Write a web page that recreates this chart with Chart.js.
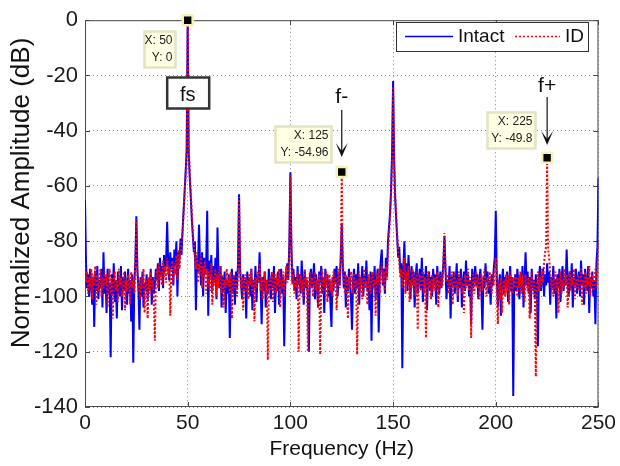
<!DOCTYPE html>
<html>
<head>
<meta charset="utf-8">
<script src="https://cdn.jsdelivr.net/npm/chart.js@4.4.0/dist/chart.umd.min.js"></script>
<style>
  html, body { margin: 0; padding: 0; background: #fff; }
  #spectrum { display: block; }
</style>
</head>
<body>
<canvas id="spectrum" width="620" height="466"></canvas>
<script>
// frequency bins, 0..250 Hz at 0.5 Hz resolution
const binStep = 0.5;
const freqHz = Array.from({ length: 501 }, (_, i) => i * binStep);

// normalized amplitude (dB), one row = 10 Hz
const intactDb = [
  -65,-88,-97,-92,-100,-90,-95,-103,-93,-111,-91,-98,-89,-101,-94,-97,-90,-104,-84,-99,
  -93,-106,-90,-97,-95,-122,-92,-99,-88,-102,-94,-108,-91,-97,-100,-89,-105,-93,-98,-91,
  -96,-103,-90,-99,-94,-109,-92,-124,-95,-88,-71,-90,-97,-112,-93,-100,-91,-104,-95,-98,
  -92,-101,-94,-97,-90,-103,-93,-99,-96,-90,-94,-88,-98,-86,-93,-89,-97,-85,-91,-87,
  -73,-88,-94,-84,-90,-86,-96,-83,-89,-80,-100,-84,-87,-79,-85,-76,-69,-62,-55,-47,
  0,-48,-57,-64,-72,-78,-84,-80,-105,-86,-91,-74,-88,-96,-84,-100,-86,-92,-88,-69,
  -107,-87,-93,-85,-98,-89,-95,-86,-101,-75,-92,-97,-89,-104,-93,-98,-91,-106,-94,-99,
  -92,-115,-95,-90,-99,-93,-103,-91,-97,-88,-63,-90,-96,-101,-92,-98,-94,-108,-91,-96,
  -93,-100,-90,-105,-94,-97,-89,-102,-92,-95,-84,-96,-110,-93,-98,-91,-104,-94,-99,-90,
  -95,-101,-92,-97,-89,-106,-94,-98,-91,-103,-95,-90,-99,-93,-118,-96,-91,-88,-94,-80,
  -55,-82,-95,-90,-98,-93,-101,-89,-96,-92,-99,-87,-95,-103,-91,-97,-94,-100,-120,-93,
  -90,-97,-94,-88,-101,-92,-96,-104,-91,-95,-89,-99,-93,-106,-90,-96,-92,-100,-94,-103,
  -111,-93,-98,-90,-95,-89,-100,-92,-96,-86,-74,-88,-97,-91,-104,-93,-98,-90,-95,-101,
  -112,-94,-90,-99,-92,-97,-88,-103,-93,-96,-89,-100,-92,-95,-87,-98,-94,-105,-91,-116,
  -92,-97,-89,-101,-94,-90,-113,-93,-87,-83,-96,-90,-99,-86,-93,-80,-75,-70,-62,-48,
  -22,-50,-64,-72,-79,-86,-82,-91,-88,-126,-90,-80,-94,-88,-98,-85,-93,-101,-89,-96,
  -91,-104,-93,-88,-99,-94,-90,-97,-86,-102,-92,-96,-89,-105,-94,-91,-98,-93,-100,-90,
  -96,-92,-103,-89,-95,-99,-91,-97,-93,-88,-78,-90,-101,-94,-97,-89,-108,-93,-96,-91,
  -99,-94,-88,-102,-93,-97,-90,-104,-95,-91,-98,-87,-96,-92,-100,-94,-110,-90,-97,-93,
  -89,-96,-92,-101,-94,-90,-98,-112,-93,-97,-88,-95,-91,-99,-94,-103,-92,-96,-90,-86,
  -69,-93,-104,-96,-92,-107,-94,-90,-99,-93,-97,-91,-102,-95,-89,-98,-93,-136,-96,-92,
  -98,-90,-95,-101,-92,-97,-89,-104,-94,-84,-96,-91,-99,-93,-106,-90,-97,-94,-101,-92,
  -96,-118,-93,-89,-98,-94,-90,-100,-92,-96,-88,-95,-91,-103,-93,-97,-89,-99,-94,-108,
  -92,-97,-90,-102,-94,-89,-98,-93,-96,-83,-95,-100,-91,-97,-88,-104,-93,-96,-90,-99,
  -94,-91,-100,-87,-96,-92,-103,-90,-95,-98,-89,-106,-93,-97,-91,-100,-94,-110,-88,-82,
  -57
];

const idDb = [
  -88,-95,-91,-99,-93,-97,-90,-101,-94,-96,-89,-103,-92,-98,-95,-90,-100,-93,-97,-91,
  -96,-92,-104,-94,-90,-99,-93,-108,-95,-91,-98,-94,-102,-90,-96,-93,-100,-97,-91,-105,
  -94,-98,-92,-96,-103,-91,-97,-94,-99,-89,-72,-92,-98,-95,-101,-93,-97,-90,-106,-94,
  -96,-108,-93,-99,-91,-97,-94,-102,-116,-95,-90,-97,-88,-94,-91,-96,-87,-93,-89,-95,
  -86,-92,-89,-107,-91,-87,-95,-88,-92,-85,-94,-83,-90,-84,-80,-77,-70,-63,-56,-48,
  0,-46,-55,-62,-70,-76,-82,-86,-90,-84,-95,-88,-92,-85,-97,-89,-93,-87,-99,-90,
  -94,-91,-98,-88,-103,-93,-96,-90,-100,-92,-97,-89,-95,-99,-92,-104,-94,-97,-90,-96,
  -93,-99,-91,-108,-95,-92,-97,-94,-100,-90,-64,-91,-97,-93,-105,-95,-92,-98,-94,-101,
  -92,-96,-90,-99,-94,-109,-93,-97,-91,-95,-88,-98,-93,-101,-95,-91,-99,-94,-123,-96,
  -93,-98,-91,-102,-95,-92,-99,-94,-96,-90,-104,-93,-97,-91,-100,-94,-89,-95,-92,-82,
  -56,-84,-96,-92,-99,-94,-97,-91,-120,-95,-92,-98,-94,-101,-90,-96,-93,-120,-95,-91,
  -97,-93,-100,-95,-91,-98,-94,-104,-92,-121,-96,-90,-99,-93,-97,-91,-102,-95,-92,-98,
  -94,-100,-91,-96,-93,-105,-95,-90,-97,-86,-54.96,-87,-94,-99,-92,-96,-108,-93,-97,-91,
  -95,-99,-92,-97,-94,-121,-96,-91,-98,-93,-101,-95,-90,-97,-94,-103,-92,-96,-99,-93,
  -91,-97,-94,-107,-92,-96,-90,-99,-93,-88,-95,-91,-98,-89,-94,-84,-78,-72,-64,-52,
  -24,-52,-63,-70,-77,-84,-88,-93,-90,-97,-92,-86,-99,-91,-95,-89,-102,-94,-97,-90,
  -96,-93,-100,-91,-112,-95,-92,-98,-94,-90,-99,-93,-115,-96,-91,-97,-94,-101,-92,-96,
  -93,-98,-95,-91,-104,-94,-97,-92,-96,-87,-77,-89,-95,-92,-99,-94,-97,-91,-103,-95,
  -92,-97,-94,-100,-91,-96,-93,-99,-95,-106,-92,-97,-94,-90,-98,-93,-115,-96,-92,-99,
  -94,-91,-97,-93,-101,-95,-92,-98,-94,-90,-96,-100,-93,-97,-91,-95,-99,-92,-96,-89,
  -86,-98,-110,-95,-101,-93,-106,-97,-94,-100,-92,-97,-95,-103,-91,-96,-99,-93,-97,-92,
  -95,-100,-93,-97,-91,-99,-94,-96,-102,-92,-95,-98,-93,-108,-96,-91,-99,-94,-97,-129,
  -95,-91,-98,-93,-97,-90,-95,-88,-84,-82,-49.8,-83,-86,-92,-97,-93,-100,-94,-91,-98,
  -93,-106,-95,-91,-99,-94,-97,-90,-96,-92,-104,-95,-91,-98,-93,-96,-90,-101,-94,-97,
  -92,-98,-95,-90,-103,-94,-97,-91,-99,-93,-96,-89,-100,-94,-92,-98,-95,-90,-97,-88,
  -80
];

// data tips placed on the plot
const tipHz = [50, 125, 225];
const tipDb = [0, -54.96, -49.8];

const xTickValues = [0, 50, 100, 150, 200, 250];
const yTickValues = [0, -20, -40, -60, -80, -100, -120, -140];

const FONT = "'Liberation Sans', Arial, Helvetica, sans-serif";

// full box + inward ticks, matlab style
const axesBox = {
  id: 'axesBox',
  beforeDatasetsDraw(chart) {
    const { ctx, chartArea: a, scales: { x, y } } = chart;
    ctx.save();
    ctx.strokeStyle = '#4a4a4a';
    ctx.lineWidth = 1;
    ctx.strokeRect(a.left + 0.5, a.top + 0.5, a.right - a.left - 1, a.bottom - a.top - 1);
    ctx.beginPath();
    xTickValues.forEach(v => {
      const px = Math.round(x.getPixelForValue(v)) + 0.5;
      ctx.moveTo(px, a.bottom); ctx.lineTo(px, a.bottom - 5);
      ctx.moveTo(px, a.top); ctx.lineTo(px, a.top + 5);
    });
    yTickValues.forEach(v => {
      const py = Math.round(y.getPixelForValue(v)) + 0.5;
      ctx.moveTo(a.left, py); ctx.lineTo(a.left + 5, py);
      ctx.moveTo(a.right, py); ctx.lineTo(a.right - 5, py);
    });
    ctx.stroke();
    ctx.restore();
  }
};

function arrowDown(ctx, x, y1, y2) {
  ctx.beginPath();
  ctx.moveTo(x, y1); ctx.lineTo(x, y2 - 4);
  ctx.stroke();
  ctx.beginPath();
  ctx.moveTo(x - 6, y2 - 14);
  ctx.lineTo(x, y2);
  ctx.lineTo(x + 6, y2 - 14);
  ctx.lineTo(x, y2 - 6);
  ctx.closePath();
  ctx.fill();
}

const notes = {
  id: 'notes',
  afterDatasetsDraw(chart) {
    const { ctx, scales: { x, y } } = chart;
    ctx.save();

    // datatip boxes (right edge / top offsets from the marker)
    const boxes = [
      { dx: -12, dy: 10.5, w: 32, h: 37 },
      { dx: -10, dy: -46.5, w: 57, h: 37 },
      { dx: -11, dy: -46, w: 49, h: 37 }
    ];
    ctx.font = '12px ' + FONT;
    ctx.textAlign = 'right';
    ctx.textBaseline = 'middle';
    tipHz.forEach((f, i) => {
      const mx = x.getPixelForValue(f), my = y.getPixelForValue(tipDb[i]);
      const b = boxes[i];
      const right = Math.round(mx + b.dx), top = Math.round(my + b.dy);
      ctx.fillStyle = '#ffffe3';
      ctx.fillRect(right - b.w, top, b.w, b.h);
      ctx.strokeStyle = '#e4e4c4';
      ctx.strokeRect(right - b.w + 0.5, top + 0.5, b.w - 1, b.h - 1);
      ctx.fillStyle = '#222';
      ctx.fillText('X: ' + f, right - 3.5, top + 10);
      ctx.fillText('Y: ' + tipDb[i], right - 3.5, top + 27);
    });

    // fs label box
    const fsX = x.getPixelForValue(50), fsTop = Math.round(y.getPixelForValue(-20.5));
    ctx.fillStyle = '#fff';
    ctx.fillRect(fsX - 21, fsTop, 43, 32);
    ctx.strokeStyle = '#333';
    ctx.strokeRect(fsX - 21 + 0.5, fsTop + 0.5, 42, 31);
    ctx.fillStyle = '#111';
    ctx.font = '20px ' + FONT;
    ctx.textAlign = 'center';
    ctx.textBaseline = 'alphabetic';
    ctx.fillText('fs', fsX, fsTop + 24);

    // sideband labels with arrows
    ctx.font = '21px ' + FONT;
    ctx.strokeStyle = '#111';
    ctx.lineWidth = 1.2;
    const fmX = x.getPixelForValue(125);
    ctx.fillText('f-', fmX, 103);
    arrowDown(ctx, fmX, 110, 157);
    const fpX = x.getPixelForValue(225);
    ctx.fillText('f+', fpX, 92);
    arrowDown(ctx, fpX, 97, 145);

    // legend
    const ds = chart.data.datasets;
    ctx.lineWidth = 1;
    ctx.fillStyle = '#fff';
    ctx.fillRect(396, 22, 193, 30);
    ctx.strokeStyle = '#333';
    ctx.strokeRect(396.5, 22.5, 192, 29);
    ctx.font = '19px ' + FONT;
    ctx.textAlign = 'left';
    ctx.textBaseline = 'middle';
    ctx.fillStyle = '#111';
    ctx.strokeStyle = ds[0].borderColor;
    ctx.lineWidth = 1.6;
    ctx.beginPath(); ctx.moveTo(405, 36.5); ctx.lineTo(453, 36.5); ctx.stroke();
    ctx.fillText(ds[0].label, 458, 37);
    ctx.strokeStyle = ds[1].borderColor;
    ctx.setLineDash(ds[1].borderDash);
    ctx.beginPath(); ctx.moveTo(515, 36.5); ctx.lineTo(560, 36.5); ctx.stroke();
    ctx.setLineDash([]);
    ctx.fillText(ds[1].label, 565, 37);

    ctx.restore();
  },
  afterDraw(chart) {
    const { ctx } = chart;
    ctx.save();
    ctx.translate(29, 193);
    ctx.rotate(-Math.PI / 2);
    ctx.font = '26px ' + FONT;
    ctx.fillStyle = '#111';
    ctx.textAlign = 'center';
    ctx.textBaseline = 'alphabetic';
    ctx.fillText('Normalized Amplitude (dB)', 0, 0);
    ctx.restore();
  }
};

const toPoints = arr => arr.map((v, i) => ({ x: freqHz[i], y: v }));

new Chart(document.getElementById('spectrum'), {
  type: 'line',
  data: {
    datasets: [
      {
        label: 'Intact',
        data: toPoints(intactDb),
        borderColor: '#0000ff',
        borderWidth: 2,
        pointRadius: 0,
        order: 2
      },
      {
        label: 'ID',
        data: toPoints(idDb),
        borderColor: '#ff0000',
        borderWidth: 2,
        borderDash: [2, 2],
        pointRadius: 0,
        order: 1
      },
      {
        label: 'tips',
        data: tipHz.map((f, i) => ({ x: f, y: tipDb[i] })),
        showLine: false,
        pointStyle: 'rect',
        pointRadius: 7,
        pointBackgroundColor: '#000',
        pointBorderColor: '#f6f3b0',
        pointBorderWidth: 2.5,
        clip: false,
        order: 0
      }
    ]
  },
  options: {
    responsive: false,
    animation: false,
    devicePixelRatio: 1,
    layout: { padding: { top: 13, right: 19, left: 0, bottom: 0 } },
    plugins: {
      legend: { display: false },
      tooltip: { enabled: false }
    },
    scales: {
      x: {
        type: 'linear',
        min: 0, max: 250,
        afterBuildTicks: s => { s.ticks = xTickValues.map(v => ({ value: v })); },
        afterFit: s => { s.height = 59; },
        ticks: { font: { family: FONT, size: 21 }, color: '#1a1a1a', padding: 4, maxRotation: 0 },
        grid: { color: '#8a8a8a', lineWidth: 1, drawTicks: false },
        border: { display: false, dash: [1, 3] },
        title: {
          display: true,
          text: 'Frequency (Hz)',
          font: { family: FONT, size: 21 },
          color: '#111',
          padding: { top: 0, bottom: 4 }
        }
      },
      y: {
        min: -140, max: 0,
        afterBuildTicks: s => { s.ticks = yTickValues.map(v => ({ value: v })); },
        afterFit: s => { s.width = 85; },
        ticks: { font: { family: FONT, size: 22 }, color: '#1a1a1a', padding: 7 },
        grid: { color: '#8a8a8a', lineWidth: 1, drawTicks: false },
        border: { display: false, dash: [1, 3] }
      }
    }
  },
  plugins: [axesBox, notes]
});
</script>
</body>
</html>
